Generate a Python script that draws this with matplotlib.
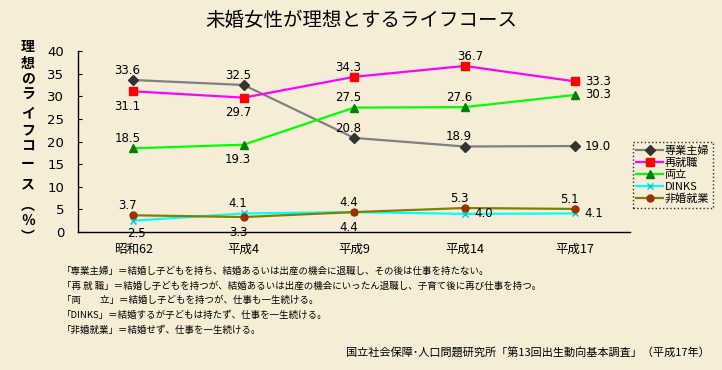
import numpy as np
import matplotlib.pyplot as plt

plt.rcParams['font.family'] = ['Noto Sans CJK JP', 'DejaVu Sans']

categories = ['昭和62', '平成4', '平成9', '平成14', '平成17']
sengyo = [33.6, 32.5, 20.8, 18.9, 19.0]
saishu = [31.1, 29.7, 34.3, 36.7, 33.3]
ryoritsu = [18.5, 19.3, 27.5, 27.6, 30.3]
dinks = [2.5, 4.1, 4.4, 4.0, 4.1]
hikon = [3.7, 3.3, 4.4, 5.3, 5.1]

names = ['専業主婦', '再就職', '両立', 'DINKS', '非婚就業']

notes = [
    '「専業主婦」＝結婚し子どもを持ち、結婚あるいは出産の機会に退職し、その後は仕事を持たない。',
    '「再 就 職」＝結婚し子どもを持つが、結婚あるいは出産の機会にいったん退職し、子育て後に再び仕事を持つ。',
    '「両　　立」＝結婚し子どもを持つが、仕事も一生続ける。',
    '「DINKS」＝結婚するが子どもは持たず、仕事を一生続ける。',
    '「非婚就業」＝結婚せず、仕事を一生続ける。',
]
source = '国立社会保障･人口問題研究所「第13回出生動向基本調査」（平成17年）'

bg = '#f6edd6'
fig = plt.figure(figsize=(7.22, 3.70), dpi=100, facecolor=bg)
ax = fig.add_axes([0.108, 0.373, 0.765, 0.489])
ax.set_facecolor(bg)

x = np.arange(len(categories))
styles = [
    (sengyo, '#808080', 'D', '#333333', 5),
    (saishu, '#ff00ff', 's', '#ff0000', 5.5),
    (ryoritsu, '#00ff00', '^', '#008000', 5.5),
    (dinks, '#00ffff', 'x', '#00cccc', 4.5),
    (hikon, '#808000', 'o', '#993300', 5),
]
order = [4, 3, 0, 1, 2]
for i in order:
    vals, lc, mk, mc, ms = styles[i]
    ax.plot(x, vals, color=lc, lw=1.6, marker=mk, markersize=ms,
            markerfacecolor=mc, markeredgecolor=mc, label=names[i], zorder=3 + i)

# label offsets (points): above / below / right
U, D, R = (0, 7), (0, -11), (14, 0)
offsets = {
    0: [U, U, U, U, R],
    1: [D, D, U, (8, 7), R],
    2: [U, D, U, U, R],
    3: [(6, -9), U, D, R, R],
    4: [U, D, U, U, U],
}
series = [sengyo, saishu, ryoritsu, dinks, hikon]
for i, vals in enumerate(series):
    for j, v in enumerate(vals):
        dx, dy = offsets[i][j]
        ha = 'left' if (dx, dy) == R else 'center'
        if (dx, dy) == R:
            dx = 7
        ax.annotate(f'{v:.1f}', (x[j], v), xytext=(dx - (4 if ha == 'center' else 0), dy),
                    textcoords='offset points', ha=ha, va='center',
                    fontsize=8.5, family='DejaVu Sans', color='black', zorder=12)

ax.set_xlim(-0.5, 4.5)
ax.set_ylim(0, 40)
ax.set_yticks(range(0, 41, 5))
ax.set_xticks(x)
ax.set_xticklabels(categories, fontsize=9)
ax.tick_params(axis='x', length=0, pad=8)
ax.tick_params(axis='y', direction='in', length=3, labelsize=9.5, pad=10)
for lab in ax.get_yticklabels():
    lab.set_family('DejaVu Sans')
for s in ['top', 'right']:
    ax.spines[s].set_visible(False)
ax.spines['left'].set_linewidth(1)
ax.spines['bottom'].set_linewidth(1)

handles, labels = ax.get_legend_handles_labels()
idx = [labels.index(n) for n in names]
leg = fig.legend([handles[k] for k in idx], [labels[k] for k in idx],
                 loc='upper left', bbox_to_anchor=(633 / 722, 1 - 142 / 370), fontsize=8,
                 frameon=True, fancybox=False, handlelength=2.4,
                 handletextpad=0.15, borderpad=0.3, labelspacing=0.18,
                 borderaxespad=0)
leg.get_frame().set_facecolor(bg)
leg.get_frame().set_edgecolor('black')
leg.get_frame().set_linestyle(':')
leg.get_frame().set_linewidth(1)

fig.text(0.5, 0.945, '未婚女性が理想とするライフコース', ha='center', va='center', fontsize=14)

ylab_chars = ['理', '想', 'の', 'ラ', 'イ', 'フ', 'コ', 'ー', 'ス', '︵', '％', '︶']
ylab_pos = [47, 64, 78, 95, 113, 130, 147, 164, 184, 206, 221, 237]
for ch, py in zip(ylab_chars, ylab_pos):
    fig.text(28 / 722, 1 - py / 370, ch, ha='center', va='center',
             fontsize=10, fontweight='bold')

for k, line in enumerate(notes):
    fig.text(62 / 722, 1 - (271 + k * 14.8) / 370, line, ha='left', va='center', fontsize=6.8)

fig.text(710 / 722, 1 - 353 / 370, source, ha='right', va='center', fontsize=8)

fig.savefig('out.png', dpi=100, facecolor=bg)
